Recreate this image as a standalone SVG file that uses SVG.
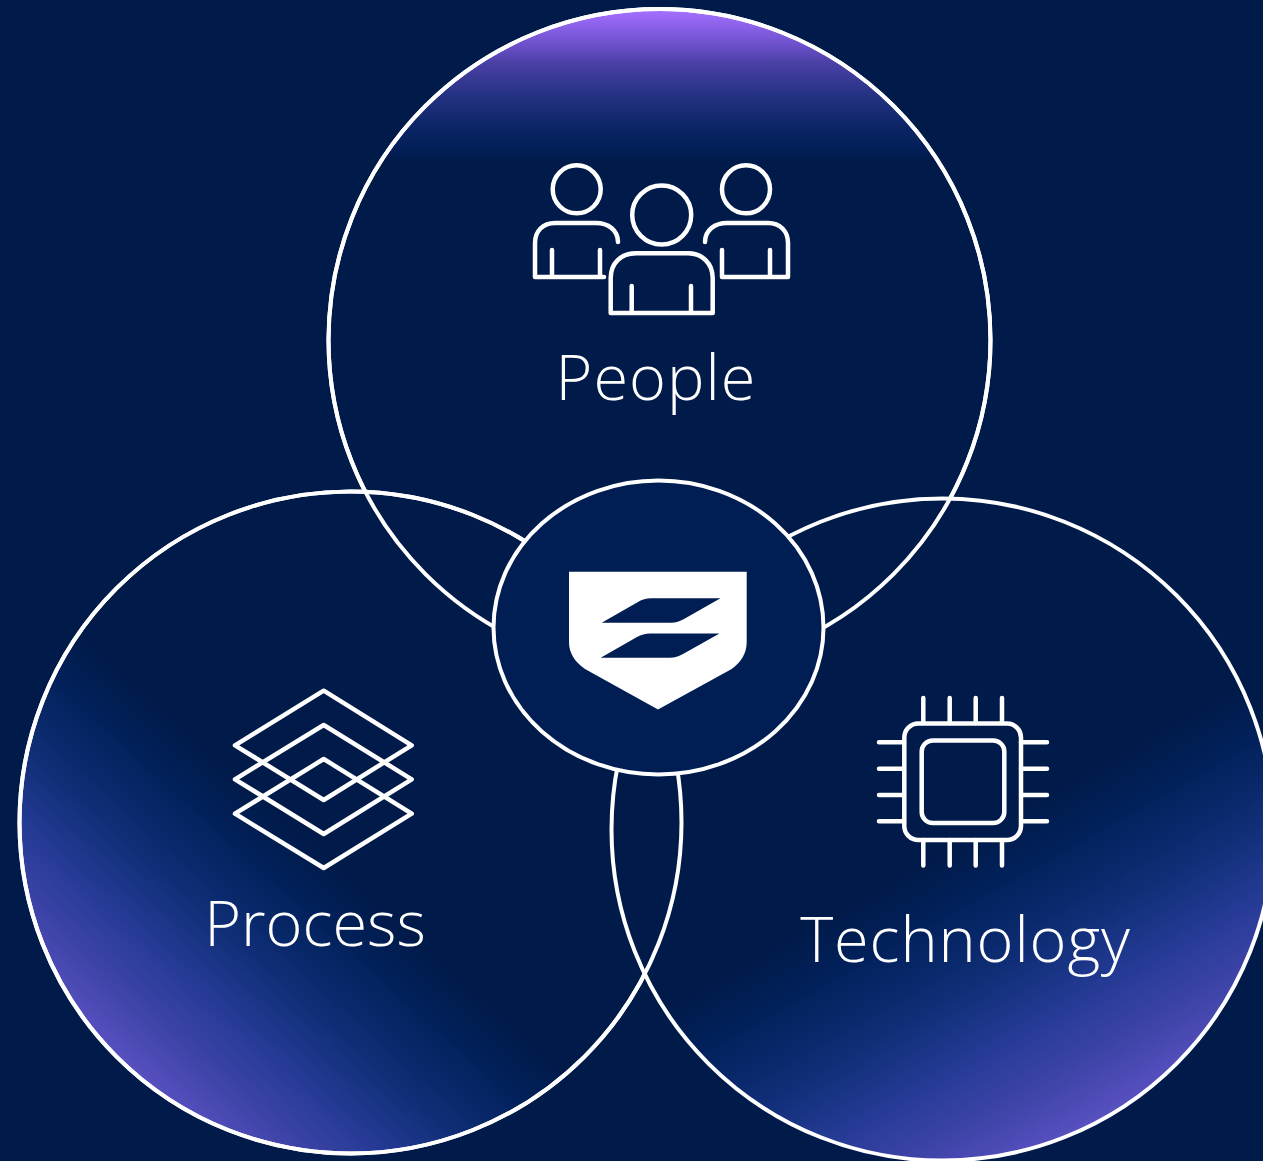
<svg xmlns="http://www.w3.org/2000/svg" width="1263" height="1161" viewBox="0 0 1263 1161">
<style>
.c{stroke:#fff;stroke-width:4}
.i{fill:none;stroke:#fff;stroke-width:4.5;stroke-linecap:round;stroke-linejoin:round}
.t{font-family:"Open Sans","Noto Sans",sans-serif;font-weight:300;font-size:63px;fill:#fff;text-anchor:middle}
.s0{stop-color:#5850c0}.s1{stop-color:#3e44a8}.s2{stop-color:#243a94}.s3{stop-color:#0e2d74}.s4{stop-color:#02215c}.s5{stop-color:#001a49}
</style>
<defs>
<linearGradient id="gp" gradientUnits="userSpaceOnUse" x1="0" y1="11" x2="0" y2="160"><stop offset="0" stop-color="#a46fff"/><stop offset="0.215" stop-color="#6f52cf"/><stop offset="0.35" stop-color="#4a40a5"/><stop offset="0.6" stop-color="#20307e"/><stop offset="0.78" stop-color="#0c2565"/><stop offset="0.91" stop-color="#03205a"/><stop offset="1" stop-color="#001a49"/></linearGradient>
<linearGradient id="gl" gradientUnits="userSpaceOnUse" x1="128" y1="1067" x2="322" y2="853"><stop class="s0" offset="0"/><stop class="s1" offset="0.18"/><stop class="s2" offset="0.38"/><stop class="s3" offset="0.6"/><stop class="s4" offset="0.82"/><stop class="s5" offset="1"/></linearGradient>
<linearGradient id="gr" gradientUnits="userSpaceOnUse" x1="1104" y1="1117" x2="952" y2="847"><stop class="s0" offset="0"/><stop class="s1" offset="0.18"/><stop class="s2" offset="0.38"/><stop class="s3" offset="0.6"/><stop class="s4" offset="0.82"/><stop class="s5" offset="1"/></linearGradient>
</defs>
<rect width="1263" height="1161" fill="#001a49"/>
<g id="connectors"></g>
<g id="people">
<circle class="c" cx="659.5" cy="340" r="331" fill="url(#gp)"/>
</g>
<g id="process">
<circle class="c" cx="350.5" cy="822.5" r="331" fill="url(#gl)"/>
</g>
<g id="technology">
<circle class="c" cx="942.5" cy="829.5" r="331" fill="url(#gr)"/>
</g>
<g id="outlines">
<circle cx="659.5" cy="340" r="331" fill="none" stroke="#fff" stroke-width="4"/>
<circle cx="350.5" cy="822.5" r="331" fill="none" stroke="#fff" stroke-width="4"/>
</g>
<g id="center">
<ellipse class="c" cx="658.5" cy="627.5" rx="165" ry="147" fill="#001e54"/>
<path fill="#fff" d="M569 571.7H746.7V642Q746.7 658 731.7 669L658 709.5L585 669Q569 658 569 642Z"/>
<path fill="#001e54" d="M601.7 622.7L638 602Q644 598.3 651 598.3H720.5L684 619Q678 622.7 671 622.7Z"/>
<path fill="#001e54" d="M600.7 657.7L637 637Q643 633.5 650 633.5H719.5L683 654Q677 657.7 670 657.7Z"/>
</g>
<g id="people-icon" class="i">
<circle cx="576.7" cy="189.3" r="24"/>
<path d="M618 242C618 230 608 223 596 223H555C543 223 535 231 535 243V277H604M552 250V277M600 250V277"/>
<circle cx="746" cy="189.3" r="24"/>
<path d="M705 242C705 230 715 223 727 223H768C780 223 788 231 788 243V277H722M722 250V277M770 250V277"/>
<circle cx="661.7" cy="215" r="29.5"/>
<path d="M610.7 313V278C610.7 263 621 253.3 636 253.3H688C702 253.3 712.7 263 712.7 278V313ZM631.7 286V313M691 286V313"/>
</g>
<g id="process-icon" class="i">
<path d="M323.7 690.7L411.7 745.3L323.7 800L235 745.3Z"/>
<path d="M323.7 725L411.7 779.3L323.7 834L235 779.3Z"/>
<path d="M323.7 759L411.7 813.7L323.7 868L235 813.7Z"/>
</g>
<g id="technology-icon" class="i">
<rect x="904.3" y="723.5" width="116.7" height="116.5" rx="14"/>
<rect x="921.7" y="740.5" width="82.6" height="82.5" rx="11"/>
<path d="M923.3 698V723M949.7 698V723M975.7 698V723M1002 698V723M923.3 840V865.5M949.7 840V865.5M975.7 840V865.5M1002 840V865.5M879 742.3H904M879 768.7H904M879 795H904M879 821.3H904M1021 742.3H1047M1021 768.7H1047M1021 795H1047M1021 821.3H1047"/>
</g>
<text class="t" x="656" y="400" style="letter-spacing:1px">People</text>
<text class="t" x="315" y="946">Process</text>
<text class="t" x="965.5" y="962" style="letter-spacing:0.9px">Technology</text>
</svg>
